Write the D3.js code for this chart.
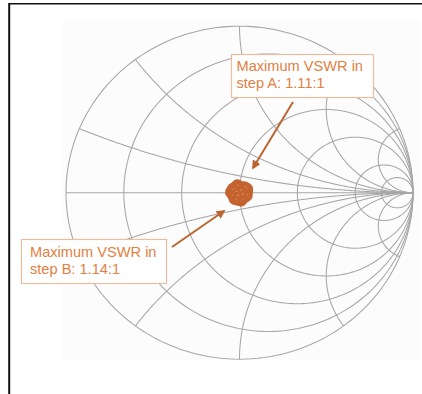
<!DOCTYPE html>
<html>
<head>
<meta charset="utf-8">
<script src="https://cdn.jsdelivr.net/npm/d3@7"></script>
<style>
  html, body { margin: 0; padding: 0; background: #fff; }
  svg { display: block; font-family: "Liberation Sans", Arial, sans-serif; }
</style>
</head>
<body>
<svg id="chart" width="422" height="394"></svg>
<script>
// Smith chart grid: normalized resistance circles and reactance arcs
const resistanceValues = [0.2, 0.5, 1, 2, 5, 10];
const reactanceValues = [0.2, 0.5, 1, 2, 5, -0.2, -0.5, -1, -2, -5];

// Measured reflection coefficient traces (|Gamma|, angle in degrees)
const stepAMag   = [0.045, 0.0521, 0.040, 0.048, 0.036, 0.050, 0.043, 0.0521, 0.038, 0.047, 0.044, 0.049];
const stepAAngle = [15, 45, 75, 105, 135, 165, 195, 225, 255, 285, 315, 345];
const stepBMag   = [0.058, 0.0654, 0.060, 0.052, 0.063, 0.057, 0.061, 0.0654, 0.055, 0.062, 0.059, 0.064, 0.054, 0.061];
const stepBAngle = [0, 26, 51, 77, 103, 128, 154, 180, 206, 231, 257, 283, 308, 334];

// Callout text
const stepNames = ["A", "B"];
const maxVswr = [1.11, 1.14];

const svg = d3.select("#chart");

// Layout
const cx = 239.5, cy = 192.7, rx = 173.5, ry = 166.5;
const x = d3.scaleLinear().domain([-1, 1]).range([cx - rx, cx + rx]);
const y = d3.scaleLinear().domain([-1, 1]).range([cy + ry, cy - ry]);
const line = d3.line().x(d => x(d[0])).y(d => y(d[1]));

// Faint backdrop behind the chart and the page frame
svg.append("rect").attr("x", 63).attr("y", 20).attr("width", 357).attr("height", 341)
  .attr("fill", "#fcfcfc");
svg.append("line").attr("x1", 9).attr("x2", 422).attr("y1", 3.7).attr("y2", 3.7)
  .attr("stroke", "#111").attr("stroke-width", 1.6);
svg.append("line").attr("x1", 9.2).attr("x2", 9.2).attr("y1", 3).attr("y2", 394)
  .attr("stroke", "#111").attr("stroke-width", 2);

const grid = svg.append("g").attr("fill", "none").attr("stroke", "#a6a6a6").attr("stroke-width", 1.05);

// Circle of constant resistance r
function resistanceCircle(r) {
  const c = r / (1 + r), rad = 1 / (1 + r);
  return d3.range(0, 361, 2).map(a => {
    const t = a * Math.PI / 180;
    return [c + rad * Math.cos(t), rad * Math.sin(t)];
  });
}
// Arc of constant reactance xv, swept over resistance 0..infinity
function reactanceArc(xv) {
  const pts = d3.range(0, 0.9995, 0.0025).map(t => {
    const r = t / (1 - t);
    const D = (r + 1) * (r + 1) + xv * xv;
    return [(r * r + xv * xv - 1) / D, 2 * xv / D];
  });
  pts.push([1, 0]);
  return pts;
}

grid.append("path").attr("d", line(resistanceCircle(0)));
grid.append("path").attr("d", line([[-1, 0], [1, 0]]));
resistanceValues.forEach(r => grid.append("path").attr("d", line(resistanceCircle(r))));
reactanceValues.forEach(v => grid.append("path").attr("d", line(reactanceArc(v))));

// Measured traces around the matched point
const toXY = (mags, angs) => mags.map((m, i) => {
  const t = angs[i] * Math.PI / 180;
  return [m * Math.cos(t), m * Math.sin(t)];
});
const loop = d3.line().x(d => x(d[0])).y(d => y(d[1])).curve(d3.curveCardinalClosed);

svg.append("path").attr("d", loop(toXY(stepBMag, stepBAngle)))
  .attr("fill", "#c4632f").attr("stroke", "#c4632f").attr("stroke-width", 6.5)
  .attr("stroke-linejoin", "round");
svg.append("path").attr("d", loop(toXY(stepAMag, stepAAngle)))
  .attr("fill", "none").attr("stroke", "#d88a5c").attr("stroke-width", 1)
  .attr("stroke-dasharray", "2 5");
svg.append("path").attr("d", loop(toXY(stepAMag.map(m => m * 0.45), stepAAngle)))
  .attr("fill", "none").attr("stroke", "#dc9467").attr("stroke-width", 1.2)
  .attr("stroke-dasharray", "2 4");

// Callout arrows
const defs = svg.append("defs");
defs.append("marker").attr("id", "head").attr("viewBox", "0 0 10 10")
  .attr("refX", 8).attr("refY", 5).attr("markerWidth", 4.5).attr("markerHeight", 4.5)
  .attr("orient", "auto")
  .append("path").attr("d", "M0,0L10,5L0,10z").attr("fill", "#bb6530");

const arrows = [
  { from: [293, 102], to: [253, 168] },
  { from: [172, 247], to: [224, 211] }
];
arrows.forEach(a => svg.append("line")
  .attr("x1", a.from[0]).attr("y1", a.from[1]).attr("x2", a.to[0]).attr("y2", a.to[1])
  .attr("stroke", "#bb6530").attr("stroke-width", 2).attr("marker-end", "url(#head)"));

// Callout boxes
const boxes = [
  { x: 231, y: 54, w: 142, h: 43, tx: 236.5, ty: 71 },
  { x: 21, y: 239, w: 145, h: 44, tx: 30, ty: 257 }
];
boxes.forEach((b, i) => {
  const g = svg.append("g");
  g.append("rect").attr("x", b.x + 0.5).attr("y", b.y + 0.5).attr("width", b.w).attr("height", b.h)
    .attr("fill", "#fff").attr("stroke", "#ebbd9f").attr("stroke-width", 1.2);
  const t = g.append("text").attr("x", b.tx).attr("y", b.ty)
    .attr("fill", "#e2803f").attr("font-size", 14.6);
  t.append("tspan").attr("x", b.tx).text("Maximum VSWR in");
  t.append("tspan").attr("x", b.tx).attr("dy", 16.5)
    .text(`step ${stepNames[i]}: ${maxVswr[i].toFixed(2)}:1`);
});
</script>
</body>
</html>
